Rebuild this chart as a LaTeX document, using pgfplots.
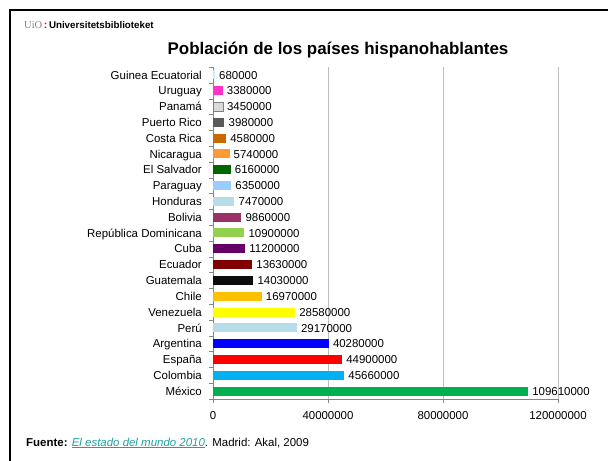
\documentclass[border=0pt]{standalone}
\usepackage{fontspec}
\setmainfont{Liberation Sans}
\newfontfamily\serifuio{Liberation Serif}
\usepackage{pgfplots}
\pgfplotsset{compat=1.18}

\definecolor{gridgray}{RGB}{190,190,190}
\definecolor{axgray}{RGB}{134,134,134}
\definecolor{linkteal}{RGB}{32,160,160}
\definecolor{cGuinea}{RGB}{198,239,240}
\definecolor{cUruguay}{RGB}{255,51,204}
\definecolor{cPanama}{RGB}{217,217,217}
\definecolor{cPuerto}{RGB}{89,89,89}
\definecolor{cCosta}{RGB}{204,102,0}
\definecolor{cNicaragua}{RGB}{255,153,51}
\definecolor{cSalvador}{RGB}{0,102,0}
\definecolor{cParaguay}{RGB}{153,204,255}
\definecolor{cHonduras}{RGB}{183,222,232}
\definecolor{cBolivia}{RGB}{153,51,102}
\definecolor{cDominicana}{RGB}{146,208,80}
\definecolor{cCuba}{RGB}{102,0,102}
\definecolor{cEcuador}{RGB}{128,0,0}
\definecolor{cGuatemala}{RGB}{13,13,13}
\definecolor{cChile}{RGB}{255,192,0}
\definecolor{cVenezuela}{RGB}{255,255,0}
\definecolor{cPeru}{RGB}{183,222,232}
\definecolor{cArgentina}{RGB}{0,0,255}
\definecolor{cEspana}{RGB}{255,0,0}
\definecolor{cColombia}{RGB}{0,176,240}
\definecolor{cMexico}{RGB}{0,176,80}

\tikzset{
  hbar/.style={xbar, bar width=9bp, bar shift=0pt, draw=none, fill=#1},
}

\begin{document}
\begin{tikzpicture}
\path[use as bounding box] (0,0) rectangle (608bp,461bp);
\draw[line width=2bp] (10bp,0) -- (10bp,451bp) -- (608bp,451bp);

\node[anchor=west, inner sep=0pt] at (24bp,436bp)
  {{\serifuio\fontsize{10.5}{12}\selectfont\color{gray}UiO}\,{\color{red}\bfseries\fontsize{10.5}{12}\selectfont:}\,{\bfseries\fontsize{9.8}{11}\selectfont Universitetsbiblioteket}};

\node[font=\bfseries\fontsize{17}{20}\selectfont] at (338bp,411bp)
  {Población de los países hispanohablantes};

\node[anchor=west, inner sep=0pt, font=\fontsize{11.5}{13}\selectfont] at (26bp,18bp)
  {\textbf{Fuente:} {\color{linkteal}\underline{\textit{El estado del mundo 2010}}}. Madrid: Akal, 2009};

\begin{axis}[
  at={(213bp,62bp)}, anchor=south west,
  scale only axis, width=345bp, height=332bp,
  xmin=0, xmax=120000000,
  ymin=-0.5, ymax=20.5,
  axis lines=left,
  axis line style={draw=axgray, -},
  scaled x ticks=false,
  xtick={0,40000000,80000000,120000000},
  xticklabels={0,40000000,80000000,120000000},
  ytick={0,...,20},
  yticklabels={México,Colombia,España,Argentina,Perú,Venezuela,Chile,Guatemala,Ecuador,Cuba,República Dominicana,Bolivia,Honduras,Paraguay,El Salvador,Nicaragua,Costa Rica,Puerto Rico,Panamá,Uruguay,Guinea Ecuatorial},
  minor ytick={-0.5,0.5,...,20.5},
  tick align=outside,
  major tick length=4bp,
  minor tick length=4bp,
  ytick style={draw=none},
  minor y tick style={draw=axgray},
  xtick style={draw=axgray},
  xmajorgrids,
  major x grid style={draw=gridgray, line width=0.8pt},
  tick label style={font=\fontsize{11.5}{13}\selectfont, text height=8.3bp, text depth=0bp},
  yticklabel style={inner sep=0pt, xshift=-7bp, anchor=east},
  xticklabel style={inner sep=0pt, yshift=-8bp},
  nodes near coords,
  point meta=explicit symbolic,
  nodes near coords style={anchor=west, font=\fontsize{11.5}{13}\selectfont, inner sep=2bp, xshift=2bp, text height=8.3bp, text depth=0bp},
]
\addplot[hbar=cGuinea] coordinates {(680000,20) [680000]};
\addplot[hbar=cUruguay] coordinates {(3380000,19) [3380000]};
\addplot[hbar=cPanama, draw=gray] coordinates {(3450000,18) [3450000]};
\addplot[hbar=cPuerto] coordinates {(3980000,17) [3980000]};
\addplot[hbar=cCosta] coordinates {(4580000,16) [4580000]};
\addplot[hbar=cNicaragua] coordinates {(5740000,15) [5740000]};
\addplot[hbar=cSalvador] coordinates {(6160000,14) [6160000]};
\addplot[hbar=cParaguay] coordinates {(6350000,13) [6350000]};
\addplot[hbar=cHonduras] coordinates {(7470000,12) [7470000]};
\addplot[hbar=cBolivia] coordinates {(9860000,11) [9860000]};
\addplot[hbar=cDominicana] coordinates {(10900000,10) [10900000]};
\addplot[hbar=cCuba] coordinates {(11200000,9) [11200000]};
\addplot[hbar=cEcuador] coordinates {(13630000,8) [13630000]};
\addplot[hbar=cGuatemala] coordinates {(14030000,7) [14030000]};
\addplot[hbar=cChile] coordinates {(16970000,6) [16970000]};
\addplot[hbar=cVenezuela] coordinates {(28580000,5) [28580000]};
\addplot[hbar=cPeru] coordinates {(29170000,4) [29170000]};
\addplot[hbar=cArgentina] coordinates {(40280000,3) [40280000]};
\addplot[hbar=cEspana] coordinates {(44900000,2) [44900000]};
\addplot[hbar=cColombia] coordinates {(45660000,1) [45660000]};
\addplot[hbar=cMexico] coordinates {(109610000,0) [109610000]};
\end{axis}
\end{tikzpicture}
\end{document}
